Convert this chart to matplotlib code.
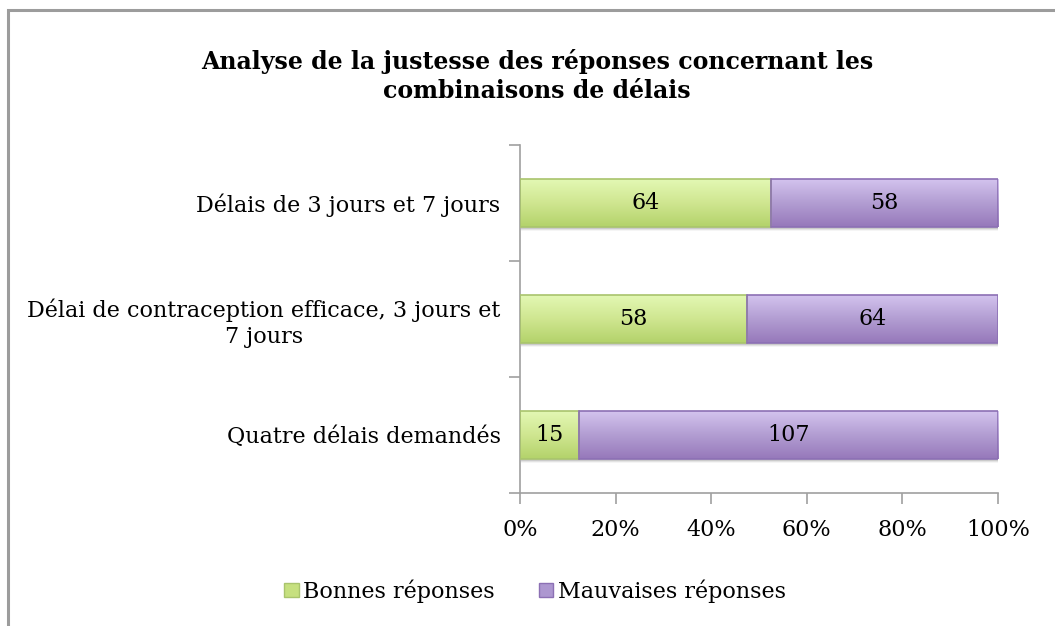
import numpy as np
import matplotlib
matplotlib.use("Agg")
import matplotlib.pyplot as plt
from matplotlib.patches import Rectangle
from matplotlib.colors import LinearSegmentedColormap
from matplotlib.ticker import FuncFormatter

categories = [
    "Délais de 3 jours et 7 jours",
    "Délai de contraception efficace, 3 jours et\n7 jours",
    "Quatre délais demandés",
]
bonnes = [64, 58, 15]
mauvaises = [58, 64, 107]
series_names = ["Bonnes réponses", "Mauvaises réponses"]
x_ticks = [0, 20, 40, 60, 80, 100]

plt.rcParams["font.family"] = ["DejaVu Serif"]
FS = 16

fig = plt.figure(figsize=(10.55, 6.26), dpi=100)
W, H = 1055, 626

# outer chart frame (extends past right/bottom edges)
fig.patches.append(Rectangle((8 / W, -0.1), 1.2, (H - 10) / H + 0.1,
                             transform=fig.transFigure, fill=False,
                             edgecolor="#9c9c9c", linewidth=2.2))

ax = fig.add_axes([520 / W, 1 - 493 / H, (998 - 520) / W, (493 - 145) / H])

totals = np.array(bonnes) + np.array(mauvaises)
pb = np.array(bonnes) / totals * 100
pm = np.array(mauvaises) / totals * 100
ypos = np.arange(len(categories))[::-1]
height = 0.41

green_cmap = LinearSegmentedColormap.from_list("g", ["#b3d26a", "#cfe690", "#e3f8b4"])
purple_cmap = LinearSegmentedColormap.from_list("p", ["#9678ba", "#b29dd2", "#d3c3ee"])

bars_b = ax.barh(ypos, pb, height=height, color="none", edgecolor="#a9c46d",
                 linewidth=1.2, zorder=3)
bars_m = ax.barh(ypos, pm, left=pb, height=height, color="none",
                 edgecolor="#8c70b4", linewidth=1.2, zorder=3)

grad = np.linspace(0, 1, 256).reshape(-1, 1)
for bars, cmap in ((bars_b, green_cmap), (bars_m, purple_cmap)):
    for p in bars:
        x0, y0 = p.get_x(), p.get_y()
        w, h = p.get_width(), p.get_height()
        # soft drop shadow
        for k, a in enumerate([0.10, 0.07, 0.04]):
            ax.add_patch(Rectangle((x0 + 0.3, y0 - 0.015 - k * 0.012), w, h,
                                   facecolor="#000000", alpha=a,
                                   edgecolor="none", zorder=1))
        ax.imshow(grad, cmap=cmap, aspect="auto", origin="lower",
                  extent=(x0, x0 + w, y0, y0 + h), zorder=2)

for bars, vals in ((bars_b, bonnes), (bars_m, mauvaises)):
    for p, v in zip(bars, vals):
        ax.text(p.get_x() + p.get_width() / 2, p.get_y() + p.get_height() / 2,
                str(v), ha="center", va="center", fontsize=FS, zorder=4)

ax.set_xlim(0, 100)
ax.set_ylim(-0.5, len(categories) - 0.5)
ax.set_xticks(x_ticks)
ax.xaxis.set_major_formatter(FuncFormatter(lambda v, _: f"{v:.0f}%"))
ax.set_yticks(ypos)
ax.set_yticklabels(categories, fontsize=FS, multialignment="center")
ax.set_yticks([-0.5, 0.5, 1.5, 2.5], minor=True)
ax.tick_params(axis="y", which="major", length=0, pad=14)
ax.tick_params(axis="y", which="minor", length=8, color="#a0a0a0", width=1.2)
ax.tick_params(axis="x", length=8, color="#a0a0a0", width=1.2, labelsize=FS, pad=11)

for s in ("top", "right"):
    ax.spines[s].set_visible(False)
for s in ("left", "bottom"):
    ax.spines[s].set_color("#a0a0a0")
    ax.spines[s].set_linewidth(1.2)
ax.set_facecolor("none")

fig.text(537 / W, 1 - 76 / H,
         "Analyse de la justesse des réponses concernant les\ncombinaisons de délais",
         ha="center", va="center", fontsize=17, fontweight="bold", linespacing=1.3)

handles = [Rectangle((0, 0), 1, 1, facecolor="#c6e07f", edgecolor="#a9c46d"),
           Rectangle((0, 0), 1, 1, facecolor="#ad97d0", edgecolor="#8c70b4")]
fig.legend(handles, series_names, loc="center", bbox_to_anchor=(535 / W, 1 - 591 / H),
           ncol=2, frameon=False, fontsize=FS, handlelength=0.65, handleheight=0.65,
           handletextpad=0.2, columnspacing=2.0)

fig.savefig("out.png", dpi=100)
